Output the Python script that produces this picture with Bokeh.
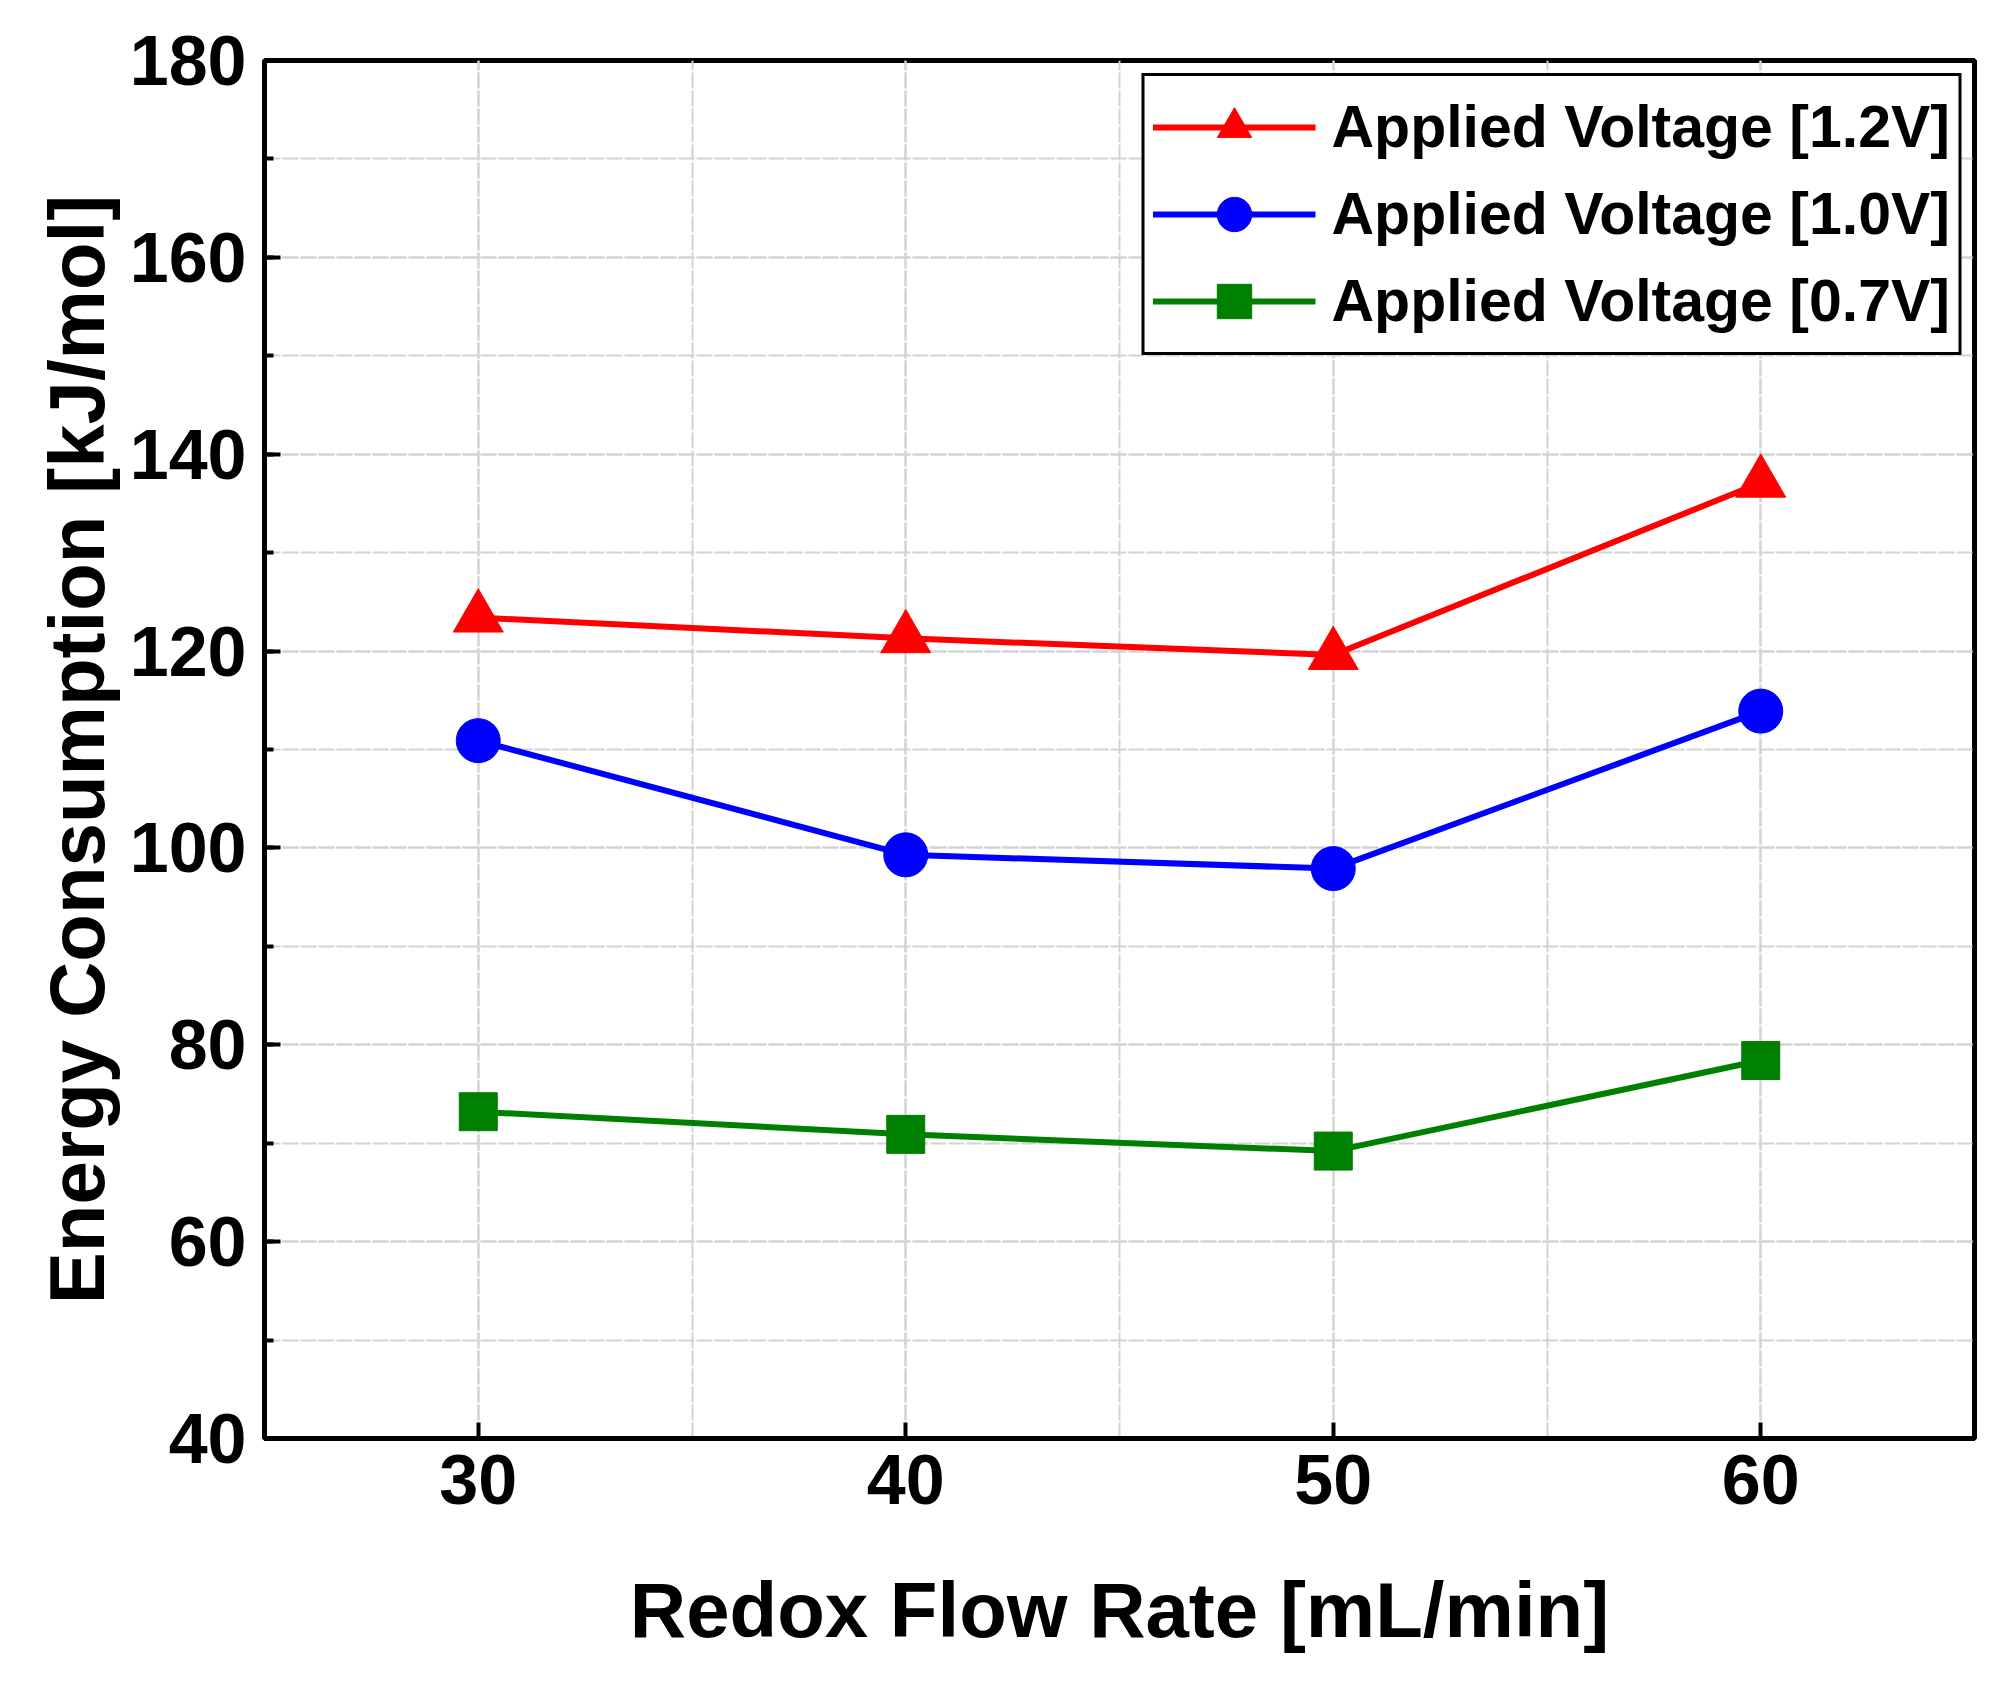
from bokeh.plotting import figure
from bokeh.models import Range1d, SingleIntervalTicker, Legend
from bokeh.embed import file_html
from bokeh.resources import INLINE

flow_rate = [30, 40, 50, 60]
energy_12v = [123.4, 121.3, 119.6, 137.1]
energy_10v = [110.9, 99.3, 97.9, 113.9]
energy_07v = [73.2, 70.9, 69.2, 78.4]
labels = ["Applied Voltage [1.2V]", "Applied Voltage [1.0V]", "Applied Voltage [0.7V]"]

FONT = "Liberation Sans"

p = figure(width=1996, height=1665, output_backend="svg", toolbar_location=None,
           x_range=Range1d(25, 65), y_range=Range1d(40, 180),
           min_border_left=264, min_border_right=22, min_border_top=60, min_border_bottom=227)
p.background_fill_color = "white"
p.border_fill_color = "white"
p.outline_line_color = "black"
p.outline_line_width = 5

r1l = p.line(flow_rate, energy_12v, line_color="#ff0000", line_width=6)
r1m = p.scatter(flow_rate, energy_12v, marker="triangle", size=50, fill_color="#ff0000", line_color="#ff0000")
r2l = p.line(flow_rate, energy_10v, line_color="#0000ff", line_width=6)
r2m = p.scatter(flow_rate, energy_10v, marker="circle", size=44, fill_color="#0000ff", line_color="#0000ff")
r3l = p.line(flow_rate, energy_07v, line_color="#008000", line_width=6)
r3m = p.scatter(flow_rate, energy_07v, marker="square", size=38, fill_color="#008000", line_color="#008000")

# axes
p.xaxis.ticker = SingleIntervalTicker(interval=10, num_minor_ticks=2)
p.yaxis.ticker = SingleIntervalTicker(interval=20, num_minor_ticks=2)
for ax in (p.xaxis[0], p.yaxis[0]):
    ax.axis_line_width = 5
    ax.axis_line_color = "black"
    ax.major_tick_in = 16
    ax.major_tick_out = 0
    ax.major_tick_line_width = 4
    ax.minor_tick_line_width = 4
    ax.major_label_text_font = FONT
    ax.major_label_text_font_style = "bold"
    ax.major_label_text_font_size = "70px"
    ax.major_label_text_color = "black"
    ax.axis_label_text_font = FONT
    ax.axis_label_text_font_style = "bold"
    ax.axis_label_text_font_size = "78px"
    ax.axis_label_text_color = "black"
p.xaxis.minor_tick_in = 0
p.xaxis.minor_tick_out = 0
p.yaxis.minor_tick_in = 9
p.yaxis.minor_tick_out = 0
p.xaxis.major_label_standoff = 16
p.yaxis.major_label_standoff = 18
p.xaxis.axis_label = "Redox Flow Rate [mL/min]"
p.yaxis.axis_label = "Energy Consumption [kJ/mol]"
p.xaxis.axis_label_standoff = 59
p.yaxis.axis_label_standoff = 6

# grid
for g in (p.xgrid[0], p.ygrid[0]):
    g.grid_line_color = "#d3d3d3"
    g.grid_line_width = 2
    g.grid_line_dash = "16 2"
    g.minor_grid_line_color = "#d3d3d3"
    g.minor_grid_line_width = 2
    g.minor_grid_line_dash = "16 2"

legend = Legend(items=[(labels[0], [r1l, r1m]), (labels[1], [r2l, r2m]), (labels[2], [r3l, r3m])],
                location="top_right")
legend.margin = 13
legend.padding = 8
legend.spacing = 1
legend.glyph_width = 163
legend.glyph_height = 86
legend.label_standoff = 16
legend.label_text_font = FONT
legend.label_text_font_style = "bold"
legend.label_text_font_size = "59px"
legend.label_text_color = "black"
legend.border_line_color = "black"
legend.border_line_alpha = 1.0
legend.border_line_width = 3
legend.background_fill_color = "white"
legend.background_fill_alpha = 1.0
p.add_layout(legend)

open("out.html", "w").write(file_html(p, INLINE))
